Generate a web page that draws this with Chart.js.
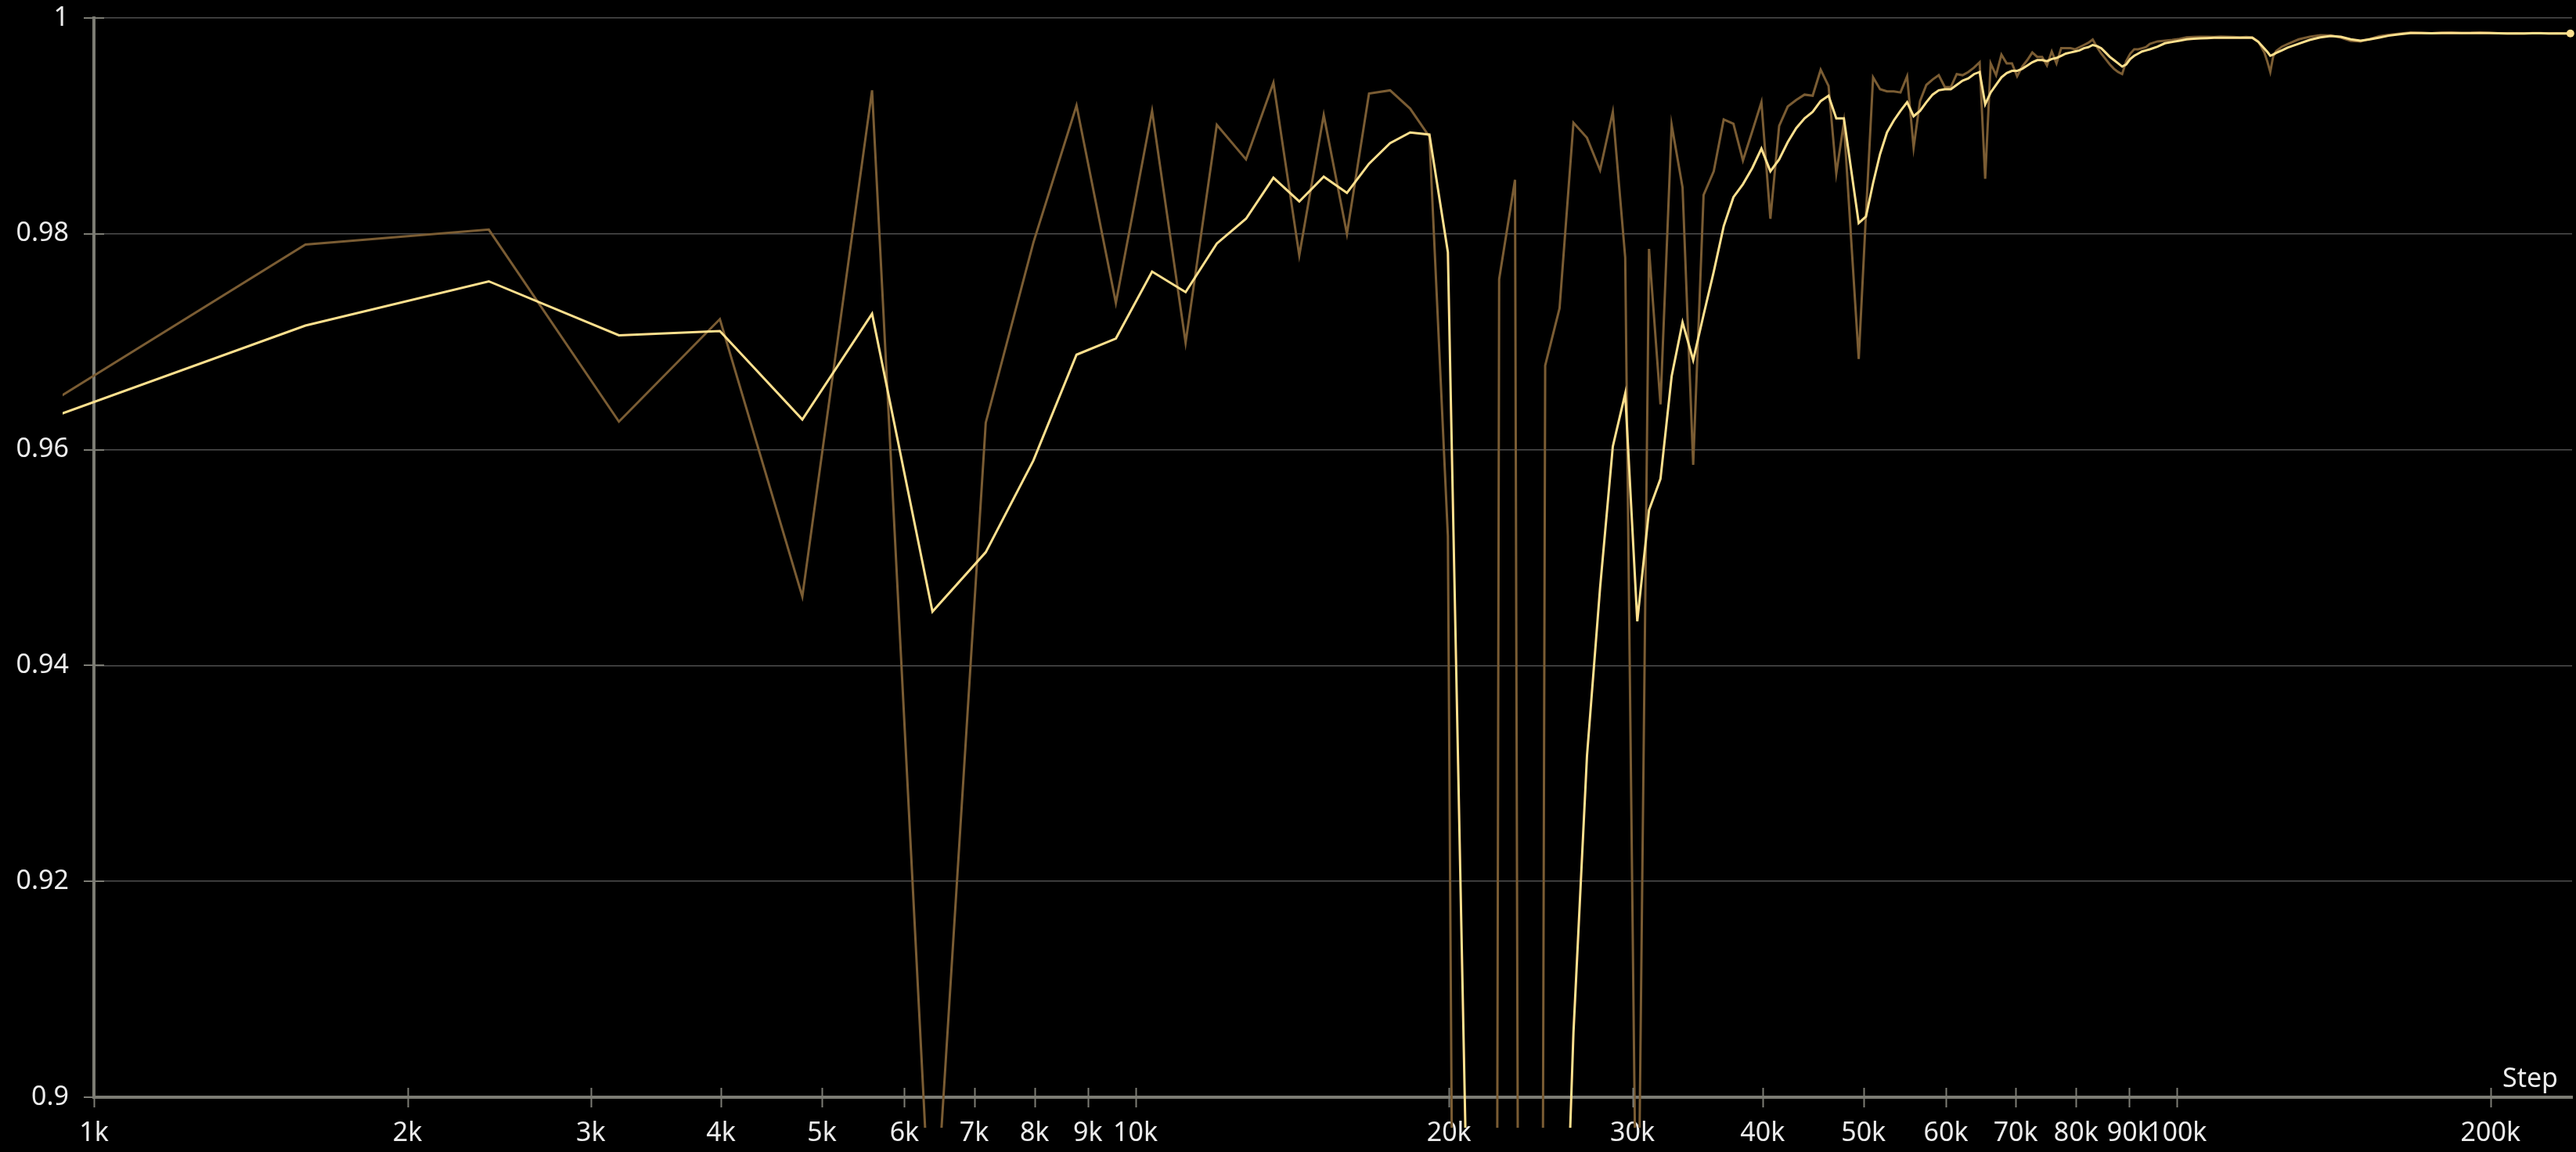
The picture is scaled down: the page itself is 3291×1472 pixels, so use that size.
<!DOCTYPE html>
<html>
<head>
<meta charset="utf-8">
<title>Accuracy by step</title>
<script src="https://cdn.jsdelivr.net/npm/chart.js@4/dist/chart.umd.min.js"></script>
<style>
  html, body { margin: 0; padding: 0; background: #000; }
  canvas { display: block; }
</style>
</head>
<body>
<canvas id="chart" width="3291" height="1472"></canvas>
<script>
// Training steps at which the metric was logged
const steps = [
  798, 1596, 2394, 3192, 3990, 4788, 5586, 6384, 7182, 7980,
  8778, 9576, 10374, 11172, 11970, 12768, 13566, 14364, 15162, 15960,
  16758, 17556, 18354, 19152, 19950, 20748, 21546, 22344, 23142, 23940,
  24738, 25536, 26334, 27132, 27930, 28728, 29526, 30324, 31122, 31920,
  32718, 33516, 34314, 35112, 35910, 36708, 37506, 38304, 39102, 39900,
  40698, 41496, 42294, 43092, 43890, 44688, 45486, 46284, 47082, 47880,
  48678, 49476, 50274, 51072, 51870, 52668, 53466, 54264, 55062, 55860,
  56658, 57456, 58254, 59052, 59850, 60648, 61446, 62244, 63042, 63840,
  64638, 65436, 66234, 67032, 67830, 68628, 69426, 70224, 71022, 71820,
  72618, 73416, 74214, 75012, 75810, 76608, 77406, 78204, 79002, 79800,
  80598, 81396, 82194, 82992, 83790, 84588, 85386, 86184, 86982, 87780,
  88578, 89376, 90174, 90972, 91770, 92568, 93366, 94164,
  95760, 97356, 98952, 100548, 102144, 103740, 105336, 106932, 108528, 110124,
  111720, 113316, 114912, 116508, 118104, 119700, 121296, 122094, 122892, 123690,
  124488, 126084, 127680, 130872, 134064, 137256, 140448, 143640, 146832, 150024,
  153216, 156408, 159600, 163590, 167580, 171570, 175560, 179550, 183540, 187530,
  191520, 195510, 199500, 203490, 207480, 211470, 215460, 219450, 223440, 227430,
  231420, 235410, 238602
];

// Raw accuracy per logged step
const rawAcc = [
  0.9610, 0.9790, 0.9804, 0.9626, 0.9721, 0.9464, 0.9933, 0.8838, 0.9625, 0.9792,
  0.9919, 0.9736, 0.9914, 0.9699, 0.9901, 0.9869, 0.9940, 0.9780, 0.9910, 0.9800,
  0.9930, 0.9933, 0.9916, 0.9890, 0.9520, 0.700, 0.280, 0.9758, 0.9850, 0.490,
  0.9678, 0.9731, 0.9903, 0.9889, 0.9859, 0.9913, 0.9778, 0.877, 0.9786, 0.9642,
  0.9901, 0.9843, 0.9586, 0.9836, 0.9858, 0.9906, 0.9902, 0.9868, 0.9895, 0.9922,
  0.9814, 0.9900, 0.9918, 0.9924, 0.9929, 0.9928, 0.9952, 0.9937, 0.9856, 0.9903,
  0.9792, 0.9684, 0.9818, 0.9945, 0.9934, 0.9932, 0.9932, 0.9931, 0.9946, 0.9880,
  0.9923, 0.9938, 0.9943, 0.9947, 0.9936, 0.9936, 0.9948, 0.9947, 0.9950, 0.9954,
  0.9959, 0.9851, 0.9958, 0.9947, 0.9966, 0.9958, 0.9958, 0.9946, 0.9955, 0.9961,
  0.9968, 0.9964, 0.9964, 0.9956, 0.9969, 0.9958, 0.9972, 0.9972, 0.9972, 0.9971,
  0.9973, 0.9975, 0.9977, 0.9980, 0.9973, 0.9967, 0.9962, 0.9957, 0.9953, 0.9950,
  0.9948, 0.9960, 0.9967, 0.9971, 0.9971, 0.9972, 0.9973, 0.9976,
  0.99783, 0.99790, 0.99797, 0.99807, 0.99821, 0.99824, 0.99826, 0.99826, 0.99824, 0.99828,
  0.99826, 0.99824, 0.99821, 0.99824, 0.99821, 0.99783, 0.99681, 0.99597, 0.99500, 0.99645,
  0.99693, 0.99734, 0.99758, 0.99802, 0.99826, 0.99841, 0.99838, 0.99819, 0.99787, 0.99783,
  0.99807, 0.99831, 0.99845, 0.99855, 0.99865, 0.99862, 0.99858, 0.99864, 0.99866, 0.99860,
  0.99862, 0.99866, 0.99863, 0.99858, 0.99856, 0.99859, 0.99857, 0.99860, 0.99861, 0.99856,
  0.99858, 0.99857, 0.99857
];

// Smoothed accuracy per logged step
const smoothAcc = [
  0.9610, 0.9715, 0.9756, 0.9706, 0.9710, 0.9628, 0.9726, 0.9450, 0.9505, 0.9590,
  0.9688, 0.9703, 0.9765, 0.9746, 0.9791, 0.9814, 0.9852, 0.9830, 0.9853, 0.9838,
  0.9865, 0.9884, 0.9894, 0.9892, 0.9783, 0.896, 0.740, 0.800, 0.850, 0.760,
  0.820, 0.868, 0.906, 0.9316, 0.9472, 0.9603, 0.9652, 0.9441, 0.9544, 0.9573,
  0.9668, 0.9718, 0.9683, 0.9725, 0.9765, 0.9807, 0.9834, 0.9846, 0.9861, 0.9879,
  0.9858, 0.9869, 0.9885, 0.9898, 0.9907, 0.9913, 0.9923, 0.9928, 0.9907, 0.9907,
  0.9858, 0.9810, 0.9816, 0.9847, 0.9874, 0.9894, 0.9905, 0.9914, 0.9922, 0.9909,
  0.9914, 0.9922, 0.9929, 0.9933, 0.9934, 0.9934, 0.9938, 0.9942, 0.9944, 0.9948,
  0.9950, 0.9920, 0.9931, 0.9938, 0.9945, 0.9949, 0.9951, 0.9951, 0.9953, 0.9956,
  0.9959, 0.9961, 0.9961, 0.9960, 0.9962, 0.9963, 0.9965, 0.9967, 0.9968, 0.9969,
  0.9970, 0.9972, 0.9973, 0.9975, 0.9974, 0.9972, 0.9968, 0.9964, 0.9961, 0.9958,
  0.9955, 0.9957, 0.9962, 0.9965, 0.9967, 0.9969, 0.9970, 0.9971,
  0.99734, 0.99766, 0.99778, 0.99790, 0.99802, 0.99807, 0.99812, 0.99814, 0.99817, 0.99817,
  0.99817, 0.99817, 0.99817, 0.99817, 0.99817, 0.99778, 0.99717, 0.99686, 0.99650, 0.99662,
  0.99676, 0.99700, 0.99725, 0.99761, 0.99797, 0.99821, 0.99833, 0.99826, 0.99802, 0.99790,
  0.99802, 0.99819, 0.99836, 0.99850, 0.99860, 0.99861, 0.99858, 0.99860, 0.99861, 0.99860,
  0.99860, 0.99861, 0.99860, 0.99859, 0.99857, 0.99857, 0.99857, 0.99858, 0.99858, 0.99857,
  0.99857, 0.99857, 0.99857
];

// Axis ticks
const xTickValues = [1000, 2000, 3000, 4000, 5000, 6000, 7000, 8000, 9000, 10000,
  20000, 30000, 40000, 50000, 60000, 70000, 80000, 90000, 100000, 200000];
const yTickValues = [0.9, 0.92, 0.94, 0.96, 0.98, 1];
const yTickLabels = ['0.9', '0.92', '0.94', '0.96', '0.98', '1'];
const xAxisTitle = 'Step';

const AXIS_COLOR = '#7c7c74';
const GRID_COLOR = '#4e4e4e';
const LABEL_COLOR = '#ececec';
const RAW_COLOR = '#7a5c33';
const SMOOTH_COLOR = '#ffe08e';
const FONT_FAMILY = '"Noto Sans", "Open Sans", sans-serif';

// Tick marks that straddle both axis lines, plus the axis title at the right end
const axisDecor = {
  id: 'axisDecor',
  afterDraw(chart) {
    const { ctx, chartArea: a, scales } = chart;
    ctx.save();
    ctx.strokeStyle = AXIS_COLOR;
    ctx.lineWidth = 2;
    ctx.beginPath();
    xTickValues.forEach(v => {
      const px = Math.round(scales.x.getPixelForValue(v)) + 0.5;
      ctx.moveTo(px, a.bottom - 12);
      ctx.lineTo(px, a.bottom + 13);
    });
    yTickValues.forEach(v => {
      const py = Math.round(scales.y.getPixelForValue(v));
      ctx.moveTo(a.left - 13, py);
      ctx.lineTo(a.left + 13, py);
    });
    ctx.stroke();
    ctx.fillStyle = LABEL_COLOR;
    ctx.font = '34px ' + FONT_FAMILY;
    ctx.textAlign = 'right';
    ctx.textBaseline = 'alphabetic';
    ctx.fillText(xAxisTitle, a.right - 18, a.bottom - 13);
    ctx.restore();
  }
};

const lastIndex = steps.length - 1;
const overflowClip = { left: 40, top: 6, right: 6, bottom: 39 };

new Chart(document.getElementById('chart'), {
  type: 'line',
  data: {
    datasets: [
      {
        label: 'smoothed',
        data: steps.map((s, i) => ({ x: s, y: smoothAcc[i] })),
        borderColor: SMOOTH_COLOR,
        backgroundColor: SMOOTH_COLOR,
        borderWidth: 3,
        tension: 0,
        pointRadius: ctx => (ctx.dataIndex === lastIndex ? 5 : 0),
        pointBorderWidth: 0,
        clip: overflowClip
      },
      {
        label: 'raw',
        data: steps.map((s, i) => ({ x: s, y: rawAcc[i] })),
        borderColor: RAW_COLOR,
        backgroundColor: RAW_COLOR,
        borderWidth: 3,
        tension: 0,
        pointRadius: 0,
        clip: overflowClip
      }
    ]
  },
  options: {
    responsive: false,
    animation: false,
    devicePixelRatio: 1,
    events: [],
    layout: { padding: { top: 23, right: 1, left: 0, bottom: 0 } },
    plugins: { legend: { display: false }, tooltip: { enabled: false } },
    scales: {
      x: {
        type: 'logarithmic',
        min: 1000,
        max: 239500,
        afterBuildTicks: scale => { scale.ticks = xTickValues.map(v => ({ value: v })); },
        afterFit: scale => { scale.height = 70; },
        grid: { display: false, drawTicks: false },
        border: { display: true, color: AXIS_COLOR, width: 4 },
        ticks: {
          autoSkip: false,
          maxRotation: 0,
          minRotation: 0,
          padding: 26,
          color: LABEL_COLOR,
          font: { family: FONT_FAMILY, size: 34 },
          callback: value => (value / 1000) + 'k'
        }
      },
      y: {
        type: 'linear',
        min: 0.9,
        max: 1,
        afterBuildTicks: scale => { scale.ticks = yTickValues.map(v => ({ value: v })); },
        afterFit: scale => {
          scale.width = 120;
          scale.paddingTop = 0;
          scale.paddingBottom = 0;
        },
        grid: { display: true, color: GRID_COLOR, lineWidth: 1.5, drawTicks: false },
        border: { display: true, color: AXIS_COLOR, width: 4 },
        ticks: {
          padding: 32,
          color: LABEL_COLOR,
          font: { family: FONT_FAMILY, size: 34 },
          callback: value => yTickLabels[yTickValues.findIndex(t => Math.abs(t - value) < 1e-9)]
        }
      }
    }
  },
  plugins: [axisDecor]
});
</script>
</body>
</html>
